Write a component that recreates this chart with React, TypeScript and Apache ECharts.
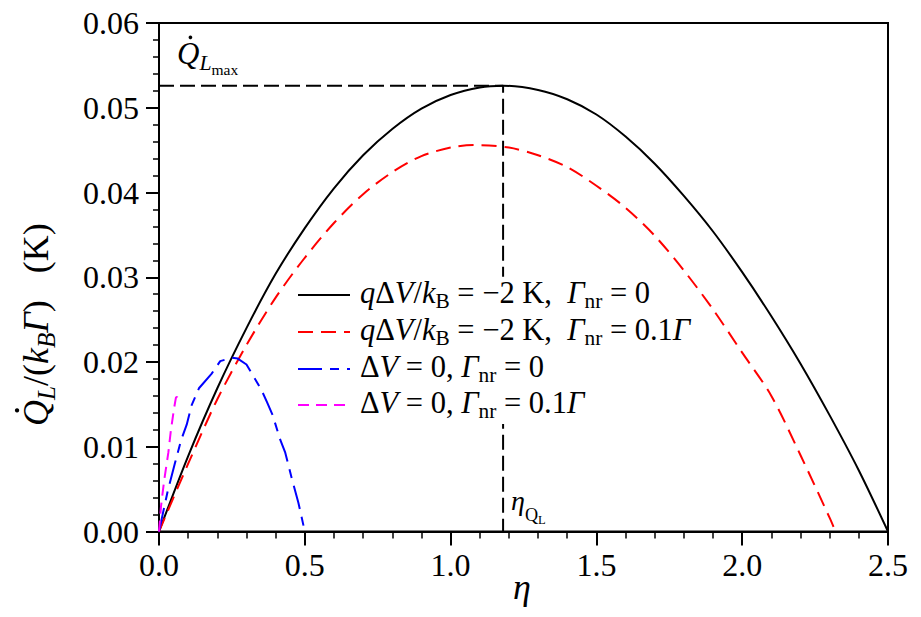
import React, { useEffect, useRef } from 'react';
import * as echarts from 'echarts';

// ---- data ----
const etaBlack = [0, 0.1, 0.2, 0.3, 0.4, 0.5, 0.6, 0.7, 0.8, 0.9, 1.0, 1.1, 1.18, 1.3, 1.4, 1.5, 1.6, 1.7, 1.8, 1.9, 2.0, 2.1, 2.2, 2.3, 2.4, 2.5];
const qBlack = [0, 0.0089, 0.0169, 0.024, 0.0304, 0.0358, 0.0405, 0.0444, 0.0475, 0.0499, 0.0515, 0.0524, 0.0526, 0.0521, 0.051, 0.0492, 0.0466, 0.0434, 0.0396, 0.0354, 0.0306, 0.0254, 0.0198, 0.0137, 0.0072, 0];

const etaRed = [0, 0.1, 0.2, 0.3, 0.4, 0.5, 0.6, 0.7, 0.8, 0.9, 1.0, 1.08, 1.2, 1.3, 1.4, 1.5, 1.6, 1.7, 1.8, 1.9, 2.0, 2.1, 2.2, 2.3, 2.32];
const qRed = [0, 0.008, 0.0156, 0.022, 0.0276, 0.0323, 0.0364, 0.0398, 0.0424, 0.0443, 0.0453, 0.0456, 0.0453, 0.0444, 0.043, 0.0408, 0.0382, 0.0349, 0.0308, 0.0262, 0.0211, 0.016, 0.009, 0.0016, 0];

const etaBlue = [0, 0.03, 0.055, 0.076, 0.095, 0.112, 0.137, 0.18, 0.21, 0.25, 0.27, 0.3, 0.35, 0.37, 0.39, 0.416, 0.433, 0.455, 0.478, 0.5];
const qBlue = [0, 0.0048, 0.0081, 0.0108, 0.0126, 0.0149, 0.0169, 0.0186, 0.0201, 0.0205, 0.0204, 0.0197, 0.0168, 0.0153, 0.0137, 0.0108, 0.0093, 0.0063, 0.0034, 0];

const etaMagenta = [0, 0.007, 0.018, 0.032, 0.041, 0.052, 0.058, 0.062, 0.066];
const qMagenta = [0, 0.003, 0.0061, 0.0093, 0.012, 0.0146, 0.0158, 0.0159, 0.0151];

const ETA_QMAX = 1.18;
const QMAX = 0.0526;

const FONT = '"Liberation Serif", "Times New Roman", serif';

let mctx: CanvasRenderingContext2D | null = null;
function textWidth(t: string, font: string): number {
  if (!mctx) mctx = document.createElement('canvas').getContext('2d');
  mctx!.font = font;
  return mctx!.measureText(t).width;
}

type Frag = { t: string; it?: boolean; s?: number; dy?: number; gap?: number; dot?: boolean };

function mathText(
  frags: Frag[],
  base: number,
  x: number,
  y: number,
  opt: { rotation?: number; bg?: boolean; align?: 'left' | 'center'; z?: number } = {}
) {
  const children: any[] = [];
  let cx = 0;
  for (const f of frags) {
    const size = base * (f.s ?? 1);
    const font = `${f.it ? 'italic ' : ''}${size}px ${FONT}`;
    const w = textWidth(f.t, font);
    const by = (f.dy ?? 0) * base;
    children.push({
      type: 'text',
      x: cx,
      y: by - 0.34 * size,
      style: {
        text: f.t,
        fontFamily: FONT,
        fontSize: size,
        fontStyle: f.it ? 'italic' : 'normal',
        fill: '#000',
        align: 'left',
        verticalAlign: 'middle',
      },
    });
    if (f.dot) {
      children.push({
        type: 'circle',
        shape: { cx: cx + w * 0.6, cy: by - 0.86 * size, r: size * 0.06 },
        style: { fill: '#000' },
      });
    }
    cx += w + (f.gap ?? 0) * base;
  }
  const off = opt.align === 'center' ? -cx / 2 : 0;
  children.forEach((c) => {
    if (c.type === 'circle') c.shape.cx += off;
    else c.x += off;
  });
  if (opt.bg) {
    children.unshift({
      type: 'rect',
      shape: { x: off - 3, y: -0.86 * base, width: cx + 6, height: 1.22 * base },
      style: { fill: '#fff' },
    });
  }
  const z = opt.z ?? 50;
  children.forEach((c) => (c.z = z));
  return { type: 'group', x, y, rotation: opt.rotation ?? 0, children, z };
}

const legendRows: { color: string; dash: number[] | null; frags: Frag[] }[] = [
  {
    color: '#000000',
    dash: null,
    frags: [
      { t: 'q', it: true }, { t: 'Δ' }, { t: 'V', it: true }, { t: '/' }, { t: 'k', it: true },
      { t: 'B', s: 0.7, dy: 0.17 }, { t: ' = −2 K,  ' }, { t: 'Γ', it: true }, { t: 'nr', s: 0.7, dy: 0.17 }, { t: ' = 0' },
    ],
  },
  {
    color: '#ff0000',
    dash: [15, 8],
    frags: [
      { t: 'q', it: true }, { t: 'Δ' }, { t: 'V', it: true }, { t: '/' }, { t: 'k', it: true },
      { t: 'B', s: 0.7, dy: 0.17 }, { t: ' = −2 K,  ' }, { t: 'Γ', it: true }, { t: 'nr', s: 0.7, dy: 0.17 },
      { t: ' = 0.1' }, { t: 'Γ', it: true },
    ],
  },
  {
    color: '#0000ff',
    dash: [24, 8, 9, 8],
    frags: [
      { t: 'Δ' }, { t: 'V', it: true }, { t: ' = 0, ' }, { t: 'Γ', it: true }, { t: 'nr', s: 0.7, dy: 0.17 }, { t: ' = 0' },
    ],
  },
  {
    color: '#ff00ff',
    dash: [11, 7],
    frags: [
      { t: 'Δ' }, { t: 'V', it: true }, { t: ' = 0, ' }, { t: 'Γ', it: true }, { t: 'nr', s: 0.7, dy: 0.17 },
      { t: ' = 0.1' }, { t: 'Γ', it: true },
    ],
  },
];

const legendBaselines = [303, 340, 377, 413];

export default function App() {
  const ref = useRef<HTMLDivElement>(null);
  useEffect(() => {
    if (!ref.current) return;
    const chart = echarts.init(ref.current, null, { renderer: 'svg' });

    const pair = (xs: number[], ys: number[]) => xs.map((x, i) => [x, ys[i]]);

    const graphics: any[] = [];
    legendRows.forEach((row, i) => {
      const by = legendBaselines[i];
      graphics.push({
        type: 'line',
        z: 60,
        shape: { x1: 298, y1: by - 8, x2: 350, y2: by - 8 },
        style: { stroke: row.color, lineWidth: 2, lineDash: row.dash || undefined },
      });
      graphics.push(mathText(row.frags, 30.5, 360, by, { bg: true, z: 55 }));
    });

    // y axis title
    graphics.push(
      mathText(
        [
          { t: 'Q', it: true, dot: true },
          { t: 'L', it: true, s: 0.7, dy: 0.2 },
          { t: '/(' },
          { t: 'k', it: true },
          { t: 'B', it: true, s: 0.7, dy: 0.2 },
          { t: 'Γ', it: true },
          { t: ')   (K)' },
        ],
        36,
        48,
        426,
        { rotation: Math.PI / 2 }
      )
    );
    // x axis title
    graphics.push(mathText([{ t: 'η', it: true }], 36, 522, 599, { align: 'center' }));
    // Q_L max annotation
    graphics.push(
      mathText(
        [
          { t: 'Q', it: true, dot: true },
          { t: 'L', it: true, s: 0.7, dy: 0.2 },
          { t: 'max', s: 0.5, dy: 0.36 },
        ],
        31,
        177,
        64
      )
    );
    // eta_QL annotation
    graphics.push(
      mathText(
        [
          { t: 'η', it: true },
          { t: 'Q', s: 0.65, dy: 0.4 },
          { t: 'L', s: 0.45, dy: 0.5 },
        ],
        28,
        511,
        510
      )
    );

    const axisCommon = {
      type: 'value' as const,
      axisLine: { show: true, onZero: false, lineStyle: { color: '#000', width: 2 } },
      splitLine: { show: false },
      minorSplitLine: { show: false },
    };

    chart.setOption({
      animation: false,
      backgroundColor: '#ffffff',
      grid: {
        left: 159,
        top: 23,
        width: 729,
        height: 508.5,
        show: true,
        borderColor: '#000',
        borderWidth: 2,
        backgroundColor: 'transparent',
      },
      xAxis: {
        ...axisCommon,
        min: 0,
        max: 2.5,
        interval: 0.5,
        axisTick: { show: true, inside: false, length: 14, lineStyle: { color: '#000', width: 2 } },
        minorTick: { show: true, splitNumber: 5, length: 7, lineStyle: { color: '#000', width: 1.5 } },
        axisLabel: {
          color: '#000',
          fontFamily: FONT,
          fontSize: 32,
          margin: 17,
          formatter: (v: number) => v.toFixed(1),
        },
      },
      yAxis: {
        ...axisCommon,
        min: 0,
        max: 0.06,
        interval: 0.01,
        axisTick: { show: true, inside: false, length: 13, lineStyle: { color: '#000', width: 2 } },
        minorTick: { show: true, splitNumber: 5, length: 6, lineStyle: { color: '#000', width: 1.5 } },
        axisLabel: {
          color: '#000',
          fontFamily: FONT,
          fontSize: 32,
          margin: 20,
          formatter: (v: number) => v.toFixed(2),
        },
      },
      series: [
        {
          type: 'line',
          name: 'guide',
          data: [[0, QMAX], [ETA_QMAX, QMAX], [ETA_QMAX, 0]],
          symbol: 'none',
          z: 1,
          lineStyle: { color: '#000', width: 2, type: [15, 6] },
        },
        {
          type: 'line',
          name: 'black',
          data: pair(etaBlack, qBlack),
          symbol: 'none',
          smooth: 0.3,
          lineStyle: { color: '#000000', width: 2 },
        },
        {
          type: 'line',
          name: 'red',
          data: pair(etaRed, qRed),
          symbol: 'none',
          smooth: 0.3,
          lineStyle: { color: '#ff0000', width: 2, type: [15, 8] },
        },
        {
          type: 'line',
          name: 'blue',
          data: pair(etaBlue, qBlue),
          symbol: 'none',
          lineStyle: { color: '#0000ff', width: 2, type: [24, 8, 9, 8] },
        },
        {
          type: 'line',
          name: 'magenta',
          data: pair(etaMagenta, qMagenta),
          symbol: 'none',
          lineStyle: { color: '#ff00ff', width: 2, type: [11, 7] },
        },
      ],
      graphic: graphics,
    });
    return () => chart.dispose();
  }, []);

  return (
    <div
      ref={ref}
      style={{ position: 'fixed', left: 0, top: 0, width: 921, height: 617, background: '#fff' }}
    />
  );
}
